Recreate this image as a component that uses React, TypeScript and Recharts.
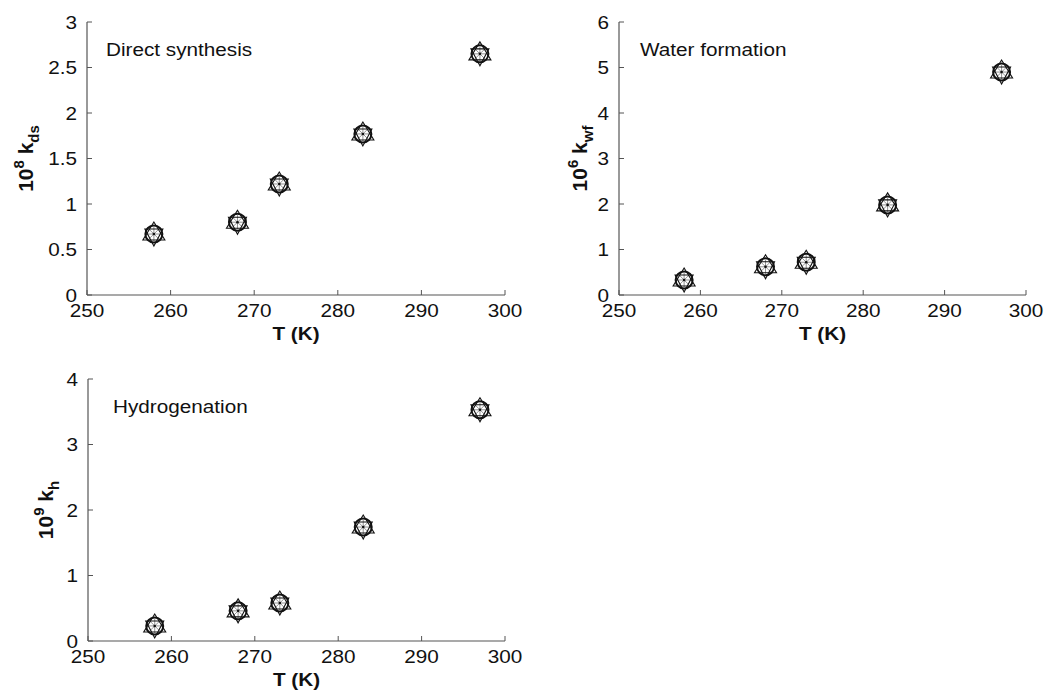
import React from 'react';
import {
  ScatterChart,
  Scatter,
  XAxis,
  YAxis,
  Customized,
} from 'recharts';

const TEMPS = [258, 268, 273, 283, 297];
const K_DS = [0.67, 0.8, 1.22, 1.77, 2.65];
const K_WF = [0.33, 0.62, 0.72, 1.98, 4.9];
const K_H = [0.23, 0.46, 0.58, 1.74, 3.53];

const X_TICKS = [250, 260, 270, 280, 290, 300];
const DS_TICKS = [0, 0.5, 1, 1.5, 2, 2.5, 3];
const WF_TICKS = [0, 1, 2, 3, 4, 5, 6];
const H_TICKS = [0, 1, 2, 3, 4];

const FONT = '"Liberation Sans", Arial, Helvetica, sans-serif';
const AXIS = '#555';
const STRETCH = 1.12; // the source figure is a little wider than tall

const toRows = (vals: number[]) => TEMPS.map((t, i) => ({ t, k: vals[i] }));

// text squeezed/stretched sideways to match the source scan
const Wide = ({ x, y, anchor, dy, size, bold, children }: any) => (
  <text
    transform={`translate(${x},${y}) scale(${STRETCH},1)`}
    x={0}
    y={0}
    dy={dy}
    textAnchor={anchor}
    fontFamily={FONT}
    fontSize={size}
    fontWeight={bold ? 'bold' : 'normal'}
    fill="#111"
  >
    {children}
  </text>
);

const XTick = (props: any) => (
  <Wide x={props.x} y={props.y} anchor="middle" dy="0.71em" size={18.5}>
    {props.payload.value}
  </Wide>
);

const YTick = (props: any) => (
  <Wide x={props.x} y={props.y} anchor="end" dy="0.36em" size={18.5}>
    {props.payload.value}
  </Wide>
);

// overlapping circle / triangles / spokes, like the stacked model markers
const Marker = (props: any) => {
  const { cx, cy } = props;
  if (cx == null || cy == null) return null;
  const spokes = [0, 1, 2, 3, 4, 5, 6, 7].map((i) => {
    const a = (i * Math.PI) / 4;
    return (
      <line
        key={i}
        x1={cx}
        y1={cy}
        x2={cx + 7 * Math.cos(a)}
        y2={cy + 7 * Math.sin(a)}
        stroke="#777"
        strokeWidth={0.8}
      />
    );
  });
  return (
    <g>
      {spokes}
      <polygon
        points={`${cx},${cy - 12} ${cx - 11},${cy + 6} ${cx + 11},${cy + 6}`}
        fill="none"
        stroke="#111"
        strokeWidth={1.1}
      />
      <polygon
        points={`${cx},${cy + 12} ${cx - 9},${cy - 5} ${cx + 9},${cy - 5}`}
        fill="none"
        stroke="#111"
        strokeWidth={1.1}
      />
      <circle cx={cx} cy={cy} r={8.5} fill="none" stroke="#111" strokeWidth={2} />
      <circle cx={cx} cy={cy} r={1.3} fill="#111" />
    </g>
  );
};

const YLabel = (props: any) => {
  const { viewBox, sup, sub, dist } = props;
  const vb = viewBox || { x: 0, y: 0, width: 0, height: 0 };
  const x = vb.x + vb.width - dist;
  const y = vb.y + vb.height / 2;
  return (
    <text
      x={x}
      y={y}
      transform={`rotate(-90, ${x}, ${y})`}
      textAnchor="middle"
      fontFamily={FONT}
      fontWeight="bold"
      fontSize={21}
      fill="#111"
    >
      10
      <tspan dy={-9} fontSize={15}>{sup}</tspan>
      <tspan dy={9}> k</tspan>
      <tspan dy={6} fontSize={15}>{sub}</tspan>
    </text>
  );
};

const XLabel = (props: any) => {
  const vb = props.viewBox || { x: 0, y: 0, width: 0, height: 0 };
  return (
    <Wide x={vb.x + vb.width / 2} y={vb.y + 45} anchor="middle" size={18.5} bold>
      T (K)
    </Wide>
  );
};

interface PanelProps {
  values: number[];
  yTicks: number[];
  yMax: number;
  sup: string;
  sub: string;
  note: string;
  noteX: number;
  noteY: number;
  left: number;
  top: number;
  width: number;
  height: number;
  marginTop: number;
  marginRight: number;
  yAxisWidth: number;
  xAxisHeight: number;
  labelDist: number;
}

const Panel: React.FC<PanelProps> = (p) => {
  return (
    <div style={{ position: 'absolute', left: p.left, top: p.top }}>
      <ScatterChart
        width={p.width}
        height={p.height}
        margin={{ top: p.marginTop, right: p.marginRight, bottom: 0, left: 0 }}
      >
        <XAxis
          dataKey="t"
          type="number"
          domain={[250, 300]}
          ticks={X_TICKS}
          interval={0}
          height={p.xAxisHeight}
          tickSize={-5}
          tickMargin={14}
          tick={<XTick />}
          axisLine={{ stroke: AXIS, strokeWidth: 1.2 }}
          tickLine={{ stroke: AXIS }}
          label={<XLabel />}
        />
        <XAxis
          xAxisId="top"
          orientation="top"
          type="number"
          domain={[250, 300]}
          ticks={X_TICKS}
          interval={0}
          height={0}
          tickSize={-5}
          tickFormatter={() => ''}
          axisLine={{ stroke: AXIS, strokeWidth: 1.2 }}
          tickLine={{ stroke: AXIS }}
        />
        <YAxis
          dataKey="k"
          type="number"
          domain={[0, p.yMax]}
          ticks={p.yTicks}
          interval={0}
          width={p.yAxisWidth}
          tickSize={-5}
          tickMargin={15}
          tick={<YTick />}
          axisLine={{ stroke: AXIS, strokeWidth: 1.2 }}
          tickLine={{ stroke: AXIS }}
          label={<YLabel sup={p.sup} sub={p.sub} dist={p.labelDist} />}
        />
        <YAxis
          yAxisId="right"
          orientation="right"
          type="number"
          domain={[0, p.yMax]}
          ticks={p.yTicks}
          interval={0}
          width={0}
          tickSize={-5}
          tickFormatter={() => ''}
          axisLine={{ stroke: AXIS, strokeWidth: 1.2 }}
          tickLine={{ stroke: AXIS }}
        />
        <Scatter data={toRows(p.values)} shape={<Marker />} isAnimationActive={false} />
        <Customized
          component={() => (
            <Wide x={p.noteX} y={p.noteY} anchor="start" size={18.5}>
              {p.note}
            </Wide>
          )}
        />
      </ScatterChart>
    </div>
  );
};

export default function App() {
  return (
    <div style={{ position: 'absolute', left: 0, top: 0, width: 1058, height: 690, background: '#fff' }}>
      <Panel
        values={K_DS}
        yTicks={DS_TICKS}
        yMax={3}
        sup="8"
        sub="ds"
        note="Direct synthesis"
        noteX={106}
        noteY={56}
        left={0}
        top={0}
        width={535}
        height={345}
        marginTop={22}
        marginRight={30}
        yAxisWidth={87}
        xAxisHeight={50}
        labelDist={54}
      />
      <Panel
        values={K_WF}
        yTicks={WF_TICKS}
        yMax={6}
        sup="6"
        sub="wf"
        note="Water formation"
        noteX={120}
        noteY={56}
        left={520}
        top={0}
        width={538}
        height={345}
        marginTop={22}
        marginRight={32}
        yAxisWidth={99}
        xAxisHeight={50}
        labelDist={32}
      />
      <Panel
        values={K_H}
        yTicks={H_TICKS}
        yMax={4}
        sup="9"
        sub="h"
        note="Hydrogenation"
        noteX={113}
        noteY={73}
        left={0}
        top={340}
        width={535}
        height={350}
        marginTop={39}
        marginRight={30}
        yAxisWidth={88}
        xAxisHeight={49}
        labelDist={35}
      />
    </div>
  );
}
